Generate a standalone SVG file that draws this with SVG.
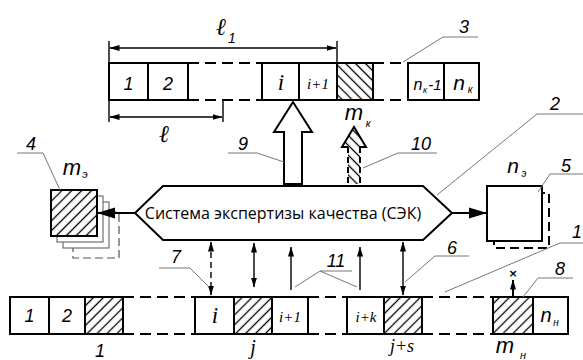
<svg xmlns="http://www.w3.org/2000/svg" width="583" height="360" viewBox="0 0 583 360">
<style>
.box{fill:#fff;stroke:#000;stroke-width:2}
.hl{fill:url(#hatchL);stroke:#000;stroke-width:2}
.hr{fill:url(#hatchR);stroke:#000;stroke-width:2}
.ln{stroke:#000;stroke-width:2;fill:none}
.dl{stroke:#000;stroke-width:2;fill:none;stroke-dasharray:11 6}
.th{stroke:#000;stroke-width:1.4;fill:none}
.ld{stroke:#777;stroke-width:1;fill:none}
.t{font-family:"Liberation Sans",Arial,sans-serif;font-style:italic;fill:#000;text-anchor:middle}
.s{font-family:"Liberation Serif","DejaVu Serif",serif;font-style:italic;fill:#000;text-anchor:middle}
.n{font-family:"Liberation Sans",Arial,sans-serif;font-style:italic;font-size:18px;fill:#000;text-anchor:middle}
</style>
<defs>
<pattern id="hatchL" patternUnits="userSpaceOnUse" width="7" height="7" patternTransform="rotate(45)">
<rect width="7" height="7" fill="#fff"/>
<line x1="3.5" y1="-1" x2="3.5" y2="8" stroke="#000" stroke-width="1.3"/>
</pattern>
<pattern id="hatchR" patternUnits="userSpaceOnUse" width="7" height="7" patternTransform="rotate(-45)">
<rect width="7" height="7" fill="#fff"/>
<line x1="3.5" y1="-1" x2="3.5" y2="8" stroke="#000" stroke-width="1.3"/>
</pattern>
<marker id="ahs" markerWidth="10" markerHeight="7" refX="9.5" refY="3.5" orient="auto-start-reverse" markerUnits="userSpaceOnUse">
<path d="M0,0.5 L10,3.5 L0,6.5 Z" fill="#000"/>
</marker>
<marker id="ahb" markerWidth="18" markerHeight="12" refX="17" refY="6" orient="auto" markerUnits="userSpaceOnUse">
<path d="M0,0.5 L18,6 L0,11.5 Z" fill="#000"/>
</marker>
</defs>

<!-- top row (3) -->
<g id="row-top">
<rect class="box" x="109" y="63" width="39" height="37"/>
<rect class="box" x="148" y="63" width="40" height="37"/>
<line class="dl" x1="188" y1="63" x2="262" y2="63"/>
<line class="dl" x1="188" y1="100" x2="262" y2="100"/>
<rect class="box" x="262" y="63" width="37" height="37"/>
<rect class="box" x="299" y="63" width="38" height="37"/>
<rect class="hr" x="337" y="63" width="36" height="37"/>
<line class="dl" x1="373" y1="63" x2="408" y2="63" stroke-dasharray="7 7 10 6"/>
<line class="dl" x1="373" y1="100" x2="408" y2="100" stroke-dasharray="7 7 10 6"/>
<rect class="box" x="408" y="63" width="36" height="37"/>
<rect class="box" x="444" y="63" width="35" height="37"/>
<text class="t" x="128.5" y="90" font-size="18">1</text>
<text class="t" x="168" y="90" font-size="18">2</text>
<text class="s" x="281" y="90" font-size="23">i</text>
<text class="s" x="318" y="89" font-size="15">i+1</text>
<text class="t" x="418" y="90" font-size="16">n</text>
<text class="t" x="425" y="93" font-size="9">к</text>
<text class="t" x="435" y="90" font-size="15">-1</text>
<text class="t" x="459" y="90" font-size="21">n</text>
<text class="t" x="470" y="93" font-size="10">к</text>
</g>

<!-- bottom row (1) -->
<g id="row-bottom">
<rect class="box" x="10" y="297" width="39" height="37"/>
<rect class="box" x="49" y="297" width="36" height="37"/>
<rect class="hl" x="85" y="297" width="38" height="37"/>
<line class="dl" x1="123" y1="297" x2="195" y2="297"/>
<line class="dl" x1="123" y1="334" x2="195" y2="334"/>
<rect class="box" x="195" y="297" width="39" height="37"/>
<rect class="hl" x="234" y="297" width="38" height="37"/>
<rect class="box" x="272" y="297" width="36" height="37"/>
<line class="dl" x1="308" y1="297" x2="347" y2="297" stroke-dasharray="6 6 14 6"/>
<line class="dl" x1="308" y1="334" x2="347" y2="334" stroke-dasharray="6 6 14 6"/>
<rect class="box" x="347" y="297" width="37" height="37"/>
<rect class="hl" x="384" y="297" width="38" height="37"/>
<line class="dl" x1="422" y1="297" x2="493" y2="297"/>
<line class="dl" x1="422" y1="334" x2="493" y2="334"/>
<rect class="hl" x="493" y="297" width="40" height="37"/>
<rect class="box" x="533" y="297" width="35" height="37"/>
<text class="t" x="29.5" y="322" font-size="18">1</text>
<text class="t" x="67" y="322" font-size="18">2</text>
<text class="s" x="215" y="323" font-size="23">i</text>
<text class="s" x="290" y="322" font-size="15">i+1</text>
<text class="s" x="366" y="322" font-size="15">i+k</text>
<text class="t" x="546" y="322" font-size="20">n</text>
<text class="t" x="556" y="326" font-size="10">н</text>
<text class="t" x="100" y="357" font-size="18">1</text>
<text class="s" x="253" y="354" font-size="20">j</text>
<text class="s" x="402" y="352" font-size="18">j+s</text>
<text class="t" x="505" y="353" font-size="22">m</text>
<text class="t" x="523" y="359" font-size="11">н</text>
</g>

<!-- hexagon (2) -->
<g id="sek">
<polygon class="box" points="135,213 163,186 423,186 452,213 423,240 163,240"/>
<text x="283" y="219" font-family="'Open Sans','Liberation Sans',sans-serif" font-size="16" text-anchor="middle" fill="#000">Система экспертизы качества (СЭК)</text>
</g>

<!-- stack (4) -->
<g id="stack-m-e">
<rect x="73" y="212" width="46" height="46" fill="#fff" stroke="#555" stroke-width="1.2" stroke-dasharray="8 4"/>
<rect x="63" y="202" width="46" height="46" fill="#fff" stroke="#555" stroke-width="1"/>
<rect x="57" y="196" width="46" height="46" fill="#fff" stroke="#555" stroke-width="1"/>
<rect class="hl" x="51" y="190" width="46" height="46"/>
<text class="t" x="72" y="175" font-size="22">m</text>
<text class="t" x="85" y="178" font-size="11">э</text>
</g>

<!-- square (5) -->
<g id="square-n-e">
<rect x="494" y="193" width="55" height="55" fill="none" stroke="#000" stroke-width="2" stroke-dasharray="9 5"/>
<rect class="box" x="487" y="186" width="55" height="55"/>
<text class="t" x="513" y="173" font-size="21">n</text>
<text class="t" x="524" y="177" font-size="10">э</text>
</g>

<!-- big arrows 9, 10 -->
<g id="arrow-9">
<polygon class="box" points="284,184 284,132 274,132 293,102 312,132 302,132 302,184"/>
</g>
<g id="arrow-10">
<polygon points="348,184 348,147 342,147 354,127 366,147 360,147 360,184" fill="url(#hatchR)" stroke="none"/>
<polyline class="ln" points="348,147 342,147 354,127 366,147 360,147"/>
<line class="ln" x1="348" y1="147" x2="348" y2="184" stroke-dasharray="6 4"/>
<line class="ln" x1="360" y1="147" x2="360" y2="184" stroke-dasharray="6 4"/>
<text class="t" x="354" y="120" font-size="22">m</text>
<text class="t" x="368" y="127" font-size="10">к</text>
</g>

<!-- connectors -->
<g id="connectors">
<line class="th" x1="109" y1="41" x2="109" y2="122"/>
<line class="th" x1="337" y1="41" x2="337" y2="63"/>
<line class="th" x1="223" y1="100" x2="223" y2="122"/>
<line class="th" x1="110" y1="48" x2="336" y2="48" marker-start="url(#ahs)" marker-end="url(#ahs)"/>
<line class="th" x1="110" y1="117" x2="222" y2="117" marker-start="url(#ahs)" marker-end="url(#ahs)"/>
<line class="ln" x1="135" y1="213" x2="98" y2="213" marker-end="url(#ahb)"/>
<line class="ln" x1="452" y1="213" x2="486" y2="213" marker-end="url(#ahb)"/>
<line class="th" x1="211" y1="242" x2="211" y2="295" stroke-dasharray="6 4" marker-start="url(#ahs)" marker-end="url(#ahs)"/>
<line class="th" x1="254" y1="243" x2="254" y2="287" marker-start="url(#ahs)" marker-end="url(#ahs)"/>
<line class="th" x1="291" y1="290" x2="291" y2="247" marker-end="url(#ahs)"/>
<line class="th" x1="360" y1="290" x2="360" y2="247" marker-end="url(#ahs)"/>
<line class="th" x1="403" y1="242" x2="403" y2="295" marker-start="url(#ahs)" marker-end="url(#ahs)"/>
<line class="ln" x1="513" y1="297" x2="513" y2="280" marker-end="url(#ahs)"/>
<text x="513" y="277" font-family="'DejaVu Sans',sans-serif" font-size="11" font-weight="bold" text-anchor="middle">×</text>
<polyline class="ld" points="403,62 443,37 478,37"/>
<polyline class="ld" points="228,153 257,153 284,162"/>
<polyline class="ld" points="363,168 398,153 437,153"/>
<polyline class="ld" points="437,195 537,114 583,114"/>
<polyline class="ld" points="17,153 43,153 60,190"/>
<polyline class="ld" points="538,192 550,174 583,174"/>
<polyline class="ld" points="445,292 560,243 583,243"/>
<polyline class="ld" points="208,286 190,268 159,268"/>
<polyline class="ld" points="295,287 320,271 352,271"/>
<line class="ld" x1="320" y1="271" x2="357" y2="287"/>
<polyline class="ld" points="405,282 435,256 469,256"/>
<polyline class="ld" points="523,297 538,278 573,278"/>
</g>

<!-- labels -->
<g id="labels">
<text class="s" x="221" y="35" font-size="24">ℓ</text>
<text class="t" x="232" y="43" font-size="14">1</text>
<text class="s" x="164" y="142" font-size="24">ℓ</text>
<text class="n" x="464" y="33">3</text>
<text class="n" x="243" y="150">9</text>
<text class="n" x="421" y="150">10</text>
<text class="n" x="555" y="110">2</text>
<text class="n" x="31" y="150">4</text>
<text class="n" x="566" y="172">5</text>
<text class="n" x="577" y="238">1</text>
<text class="n" x="176" y="263">7</text>
<text class="n" x="336" y="267">11</text>
<text class="n" x="452" y="254">6</text>
<text class="n" x="560" y="275">8</text>
</g>
</svg>
